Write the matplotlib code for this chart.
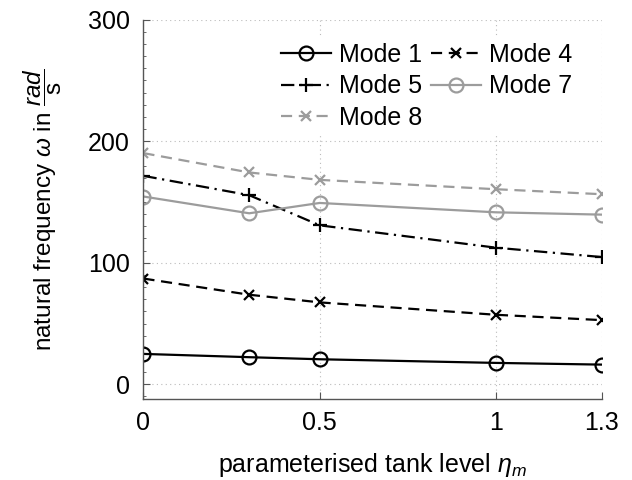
import numpy as np
import matplotlib.pyplot as plt

plt.rcParams['font.family'] = ['Liberation Sans', 'DejaVu Sans']
plt.rcParams['mathtext.fontset'] = 'custom'
plt.rcParams['mathtext.it'] = 'Liberation Sans:italic'
plt.rcParams['mathtext.rm'] = 'Liberation Sans'

# tank level and natural frequencies per mode
eta = [0, 0.3, 0.5, 1.0, 1.3]
mode1 = [25.0, 22.3, 20.6, 17.6, 16.2]
mode4 = [87.0, 73.7, 67.4, 57.2, 52.8]
mode5 = [171.5, 155.6, 130.8, 112.4, 104.7]
mode7 = [154.5, 140.7, 149.2, 141.5, 139.6]
mode8 = [190.2, 174.3, 168.2, 160.5, 156.4]

xticks = [0, 0.5, 1, 1.3]
xticklabels = ['0', '0.5', '1', '1.3']
yticks = [0, 100, 200, 300]

fs = 18
gray = '#9c9c9c'
fig = plt.figure(figsize=(6.32, 4.8), dpi=100)
ax = fig.add_axes([0.227, 0.169, 0.725, 0.790])

l1, = ax.plot(eta, mode1, color='black', ls='-', lw=1.6, marker='o', ms=10,
              mfc='none', mew=1.6, label='Mode 1')
l4, = ax.plot(eta, mode4, color='black', ls=(0, (5, 3)), lw=1.6, marker='x', ms=7,
              mew=1.6, label='Mode 4')
l5, = ax.plot(eta, mode5, color='black', ls=(0, (6, 2.5, 1, 2.5)), lw=1.6, marker='+', ms=10,
              mew=1.6, label='Mode 5')
l7, = ax.plot(eta, mode7, color=gray, ls='-', lw=1.6, marker='o', ms=10,
              mfc='none', mew=1.6, label='Mode 7')
l8, = ax.plot(eta, mode8, color=gray, ls=(0, (5, 3)), lw=1.6, marker='x', ms=7,
              mew=1.6, label='Mode 8')

ax.set_xlim(0, 1.3)
ax.set_ylim(-12, 300)
ax.set_xticks(xticks)
ax.set_xticklabels(xticklabels)
ax.set_yticks(yticks)
ax.set_yticks(np.arange(-10, 300, 10), minor=True)
ax.tick_params(axis='both', which='major', direction='in', length=5, labelsize=fs,
               color='#555555')
ax.tick_params(axis='x', which='major', pad=9)
ax.tick_params(axis='y', which='major', pad=10)
ax.tick_params(axis='y', which='minor', direction='in', length=2.5, color='#555555')
ax.tick_params(axis='x', which='minor', bottom=False)

ax.grid(True, which='major', ls=(0, (1, 3)), color='#bbbbbb', lw=0.8)
ax.set_axisbelow(True)
for s in ['top', 'right']:
    ax.spines[s].set_visible(False)
for s in ['left', 'bottom']:
    ax.spines[s].set_color('#555555')
    ax.spines[s].set_linewidth(1.0)

ax.set_xlabel(r'parameterised tank level $\eta_m$', fontsize=fs, labelpad=11)
ax.set_ylabel(r'natural frequency $\omega$ in $\dfrac{rad}{\mathrm{s}}$', fontsize=17.5,
              labelpad=17)

leg = ax.legend([l1, l5, l8, l4, l7], ['Mode 1', 'Mode 5', 'Mode 8', 'Mode 4', 'Mode 7'],
                ncol=2, loc='upper right', bbox_to_anchor=(0.975, 0.985), fontsize=fs,
                handlelength=2.0, handletextpad=0.32, columnspacing=0.36, labelspacing=0.3,
                borderpad=0.2, frameon=True, fancybox=False, framealpha=1)
leg.get_frame().set_edgecolor('none')

fig.savefig('out.png', dpi=100)
